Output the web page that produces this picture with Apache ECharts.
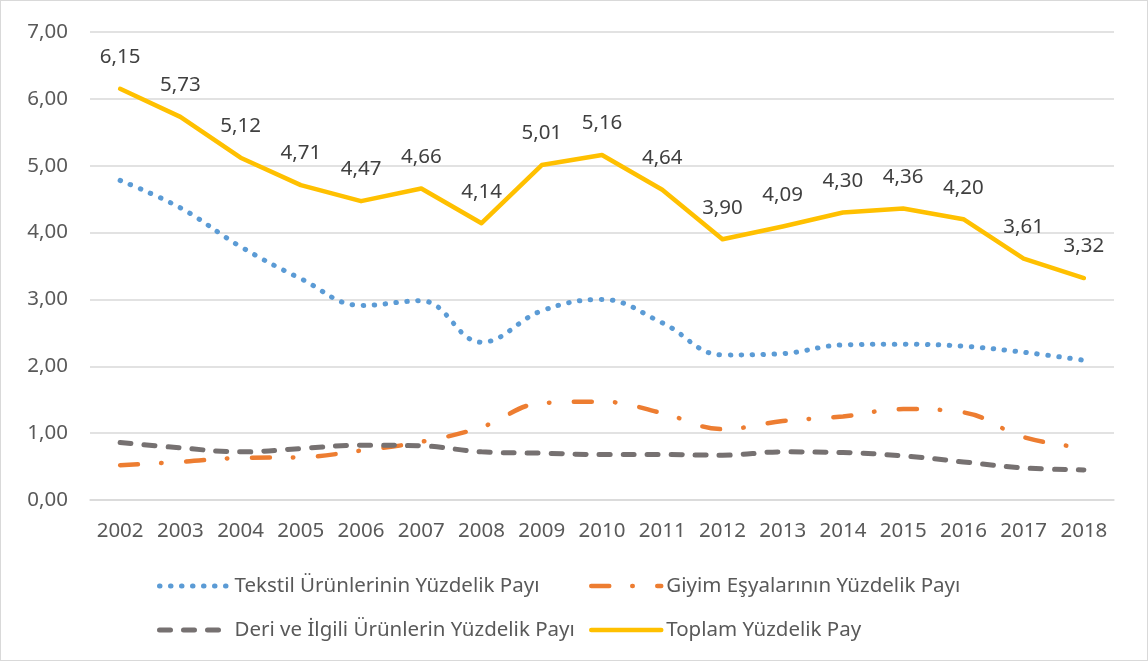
<!DOCTYPE html>
<html>
<head>
<meta charset="utf-8">
<script src="https://cdn.jsdelivr.net/npm/echarts@6/dist/echarts.min.js"></script>
<style>
  html, body { margin: 0; padding: 0; background: #fff; }
  #chart { width: 1146px; height: 659px; border: 1px solid #d9d9d9; }
</style>
</head>
<body>
<div id="chart"></div>
<script>
// years and shares (%)
const years = ['2002','2003','2004','2005','2006','2007','2008','2009','2010','2011','2012','2013','2014','2015','2016','2017','2018'];
const tekstil = [4.78, 4.37, 3.79, 3.31, 2.91, 2.98, 2.36, 2.83, 3.00, 2.65, 2.17, 2.19, 2.32, 2.33, 2.30, 2.21, 2.09];
const giyim   = [0.52, 0.57, 0.63, 0.64, 0.74, 0.87, 1.09, 1.45, 1.47, 1.30, 1.06, 1.18, 1.25, 1.36, 1.31, 0.94, 0.78];
const deri    = [0.86, 0.78, 0.72, 0.77, 0.82, 0.81, 0.72, 0.70, 0.68, 0.68, 0.67, 0.72, 0.71, 0.66, 0.57, 0.48, 0.45];
const toplam  = [6.15, 5.73, 5.12, 4.71, 4.47, 4.66, 4.14, 5.01, 5.16, 4.64, 3.90, 4.09, 4.30, 4.36, 4.20, 3.61, 3.32];

const names = ['Tekstil Ürünlerinin Yüzdelik Payı', 'Giyim Eşyalarının Yüzdelik Payı', 'Deri ve İlgili Ürünlerin Yüzdelik Payı', 'Toplam Yüzdelik Pay'];
const FONT = '"Noto Sans", sans-serif';
const FS = 20.5;
const fmt = v => v.toFixed(2).replace('.', ',');

// line looks, shared by series and legend icons
const styles = [
    { color: '#5b9bd5', width: 5, type: [0.5, 10.5], cap: 'round' },
    { color: '#ed7d31', width: 4.5, type: [18, 23, 0.5, 24.5], cap: 'round' },
    { color: '#767171', width: 5, type: [11, 13], cap: 'round' },
    { color: '#ffc000', width: 4.5, type: 'solid', cap: 'round', join: 'round' }
];
const legendItem = i => ({ name: names[i], lineStyle: styles[i], itemStyle: { opacity: 0 } });

const chart = echarts.init(document.getElementById('chart'));

const legendBase = {
    orient: 'vertical', top: 568, itemWidth: 70, itemHeight: 14, itemGap: 20,
    itemStyle: { opacity: 0 },
    textStyle: { color: '#595959', fontSize: FS, fontFamily: FONT, lineHeight: 24 }
};

chart.setOption({
    animation: false,
    backgroundColor: '#fff',
    grid: { left: 89, right: 33, top: 31, bottom: 160 },
    legend: [
        Object.assign({ left: 151, data: [legendItem(0), legendItem(2)] }, legendBase),
        Object.assign({ left: 583, data: [legendItem(1), legendItem(3)] }, legendBase)
    ],
    xAxis: {
        type: 'category', data: years, boundaryGap: true,
        axisLine: { lineStyle: { color: '#d9d9d9', width: 1.5 } },
        axisTick: { show: false },
        axisLabel: { interval: 0, color: '#595959', fontSize: FS, fontFamily: FONT, margin: 21 }
    },
    yAxis: {
        type: 'value', min: 0, max: 7, interval: 1,
        axisLine: { show: false }, axisTick: { show: false },
        splitLine: { lineStyle: { color: '#d9d9d9', width: 1.5 } },
        axisLabel: { color: '#595959', fontSize: FS, fontFamily: FONT, margin: 22, formatter: fmt }
    },
    series: [
        { name: names[0], type: 'line', data: tekstil, smooth: 0.4, symbol: 'none',
          lineStyle: styles[0], itemStyle: { color: styles[0].color } },
        { name: names[1], type: 'line', data: giyim, smooth: 0.4, symbol: 'none',
          lineStyle: styles[1], itemStyle: { color: styles[1].color } },
        { name: names[2], type: 'line', data: deri, smooth: 0.4, symbol: 'none',
          lineStyle: styles[2], itemStyle: { color: styles[2].color } },
        { name: names[3], type: 'line', data: toplam, symbol: 'circle', symbolSize: 2, showSymbol: true,
          lineStyle: styles[3], itemStyle: { color: styles[3].color },
          label: { show: true, position: 'top', distance: 20, color: '#404040', fontSize: FS, fontFamily: FONT, formatter: p => fmt(p.value) } }
    ]
});
</script>
</body>
</html>
